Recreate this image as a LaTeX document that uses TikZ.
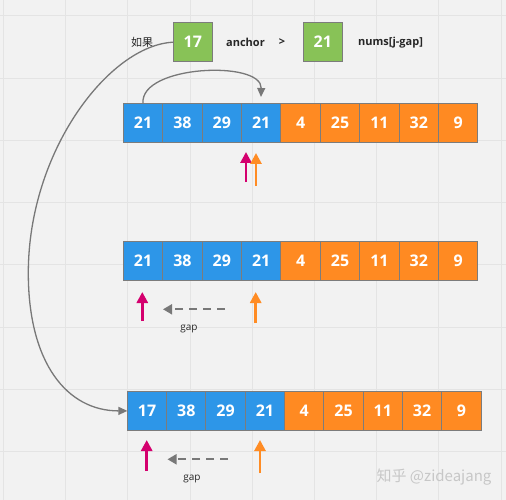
\documentclass[tikz,border=0pt]{standalone}
\usepackage{fontspec}
\setmainfont{Open Sans}
\newfontfamily\cjk{Noto Sans CJK SC}
\usetikzlibrary{arrows.meta}
\definecolor{cbg}{HTML}{F2F2F2}
\definecolor{cgrid}{HTML}{E4E4E4}
\definecolor{cblue}{HTML}{2D96E8}
\definecolor{corange}{HTML}{FF8A22}
\definecolor{cgreen}{HTML}{88C257}
\definecolor{cborder}{HTML}{7C7C7C}
\definecolor{cline}{HTML}{787878}
\definecolor{cmag}{HTML}{D4006E}
\definecolor{cptr}{HTML}{FF8C24}
\tikzset{
  cell/.style={minimum width=39.4pt, minimum height=39pt, inner sep=0pt, outer sep=0pt,
    draw=cborder, line width=1pt, text=white, font=\bfseries\fontsize{16}{16}\selectfont},
  gbox/.style={cell, fill=cgreen, minimum width=39pt},
  label/.style={font=\bfseries\fontsize{11}{11}\selectfont, text=black!85, inner sep=1pt},
  curve/.style={draw=cline, line width=1.3pt, -{Triangle[length=9pt,width=8pt]}},
  ptrm/.style={draw=cmag, line width=2.8pt, -{Triangle[length=11pt,width=11pt]}},
  ptro/.style={draw=cptr, line width=2.8pt, -{Triangle[length=11pt,width=11pt]}},
  gapline/.style={draw=cline, line width=1.8pt, dash pattern=on 8pt off 6pt, -{Triangle[length=9pt,width=10pt]}},
  gaptext/.style={font=\fontsize{10}{10}\selectfont, text=black!85}
}
\begin{document}
\begin{tikzpicture}[x=1pt,y=-1pt]
\fill[cbg] (0,0) rectangle (506,500);
\useasboundingbox (0,0) rectangle (506,500);
\foreach \i in {0,...,8} {\draw[cgrid, line width=1pt] ({3.5+62.2*\i},0) -- ++(0,500);}
\foreach \i in {0,...,7} {\draw[cgrid, line width=1pt] (0,{16+62.2*\i}) -- ++(506,0);}

% top line
\node[font=\cjk\fontsize{11}{11}\selectfont, text=black!85] (if) at (142,42) {如果};
\node[gbox] (g17) at (192.8,42.2) {17};
\node[label] (anc) at (245.5,42.5) {anchor};
\node[label] (gt) at (282,42.5) {>};
\node[gbox] (g21) at (322.8,42.2) {21};
\node[label, anchor=west] (nums) at (357,42.5) {nums[j-gap]};

% rows
\foreach \v/\c [count=\i] in {21/cblue,38/cblue,29/cblue,21/cblue,4/corange,25/corange,11/corange,32/corange,9/corange} {
  \node[cell, fill=\c] (a\i) at ({143+39.4*(\i-1)},122.7) {\v};
  \node[cell, fill=\c] (b\i) at ({143+39.4*(\i-1)},261.2) {\v};
}
\foreach \v/\c [count=\i] in {17/cblue,38/cblue,29/cblue,21/cblue,4/corange,25/corange,11/corange,32/corange,9/corange} {
  \node[cell, fill=\c, minimum width=39.3pt] (c\i) at ({147+39.3*(\i-1)},410.9) {\v};
}

% curved arrows
\coordinate (a4t) at (261,97);
\draw[curve] (a1.north) .. controls (140,65) and (262,60) .. (a4t);
\coordinate (lm) at (28.3,273);
\draw[curve] (g17.west) .. controls (110,45) and (28.3,150) .. (lm)
  .. controls (28.3,363) and (67,410.9) .. (c1.west);

% pointers row 1
\coordinate (p1s) at (246,182); \coordinate (p1e) at (246,152);
\coordinate (q1s) at (256,186); \coordinate (q1e) at (256,153);
\draw[ptrm] (p1s) -- (p1e);
\draw[ptro] (q1s) -- (q1e);

% pointers row 2
\coordinate (p2s) at (142.3,321); \coordinate (p2e) at (142.3,292);
\coordinate (q2s) at (255.7,323); \coordinate (q2e) at (255.7,292);
\draw[ptrm] (p2s) -- (p2e);
\draw[ptro] (q2s) -- (q2e);
\coordinate (d2s) at (225,309.3); \coordinate (d2e) at (163,309.3);
\draw[gapline] (d2s) -- (d2e);
\node[gaptext] (gap2) at (189,328.5) {gap};

% pointers row 3
\coordinate (p3s) at (146.7,471); \coordinate (p3e) at (146.7,440);
\coordinate (q3s) at (260,473); \coordinate (q3e) at (260,440);
\draw[ptrm] (p3s) -- (p3e);
\draw[ptro] (q3s) -- (q3e);
\coordinate (d3s) at (228,459.3); \coordinate (d3e) at (167.5,459.3);
\draw[gapline] (d3s) -- (d3e);
\node[gaptext] (gap3) at (192,478.5) {gap};

% watermark
\node[font=\cjk\fontsize{15}{15}\selectfont, text=black!22] (wm) at (434,477) {知乎 @zideajang};
\end{tikzpicture}
\end{document}
